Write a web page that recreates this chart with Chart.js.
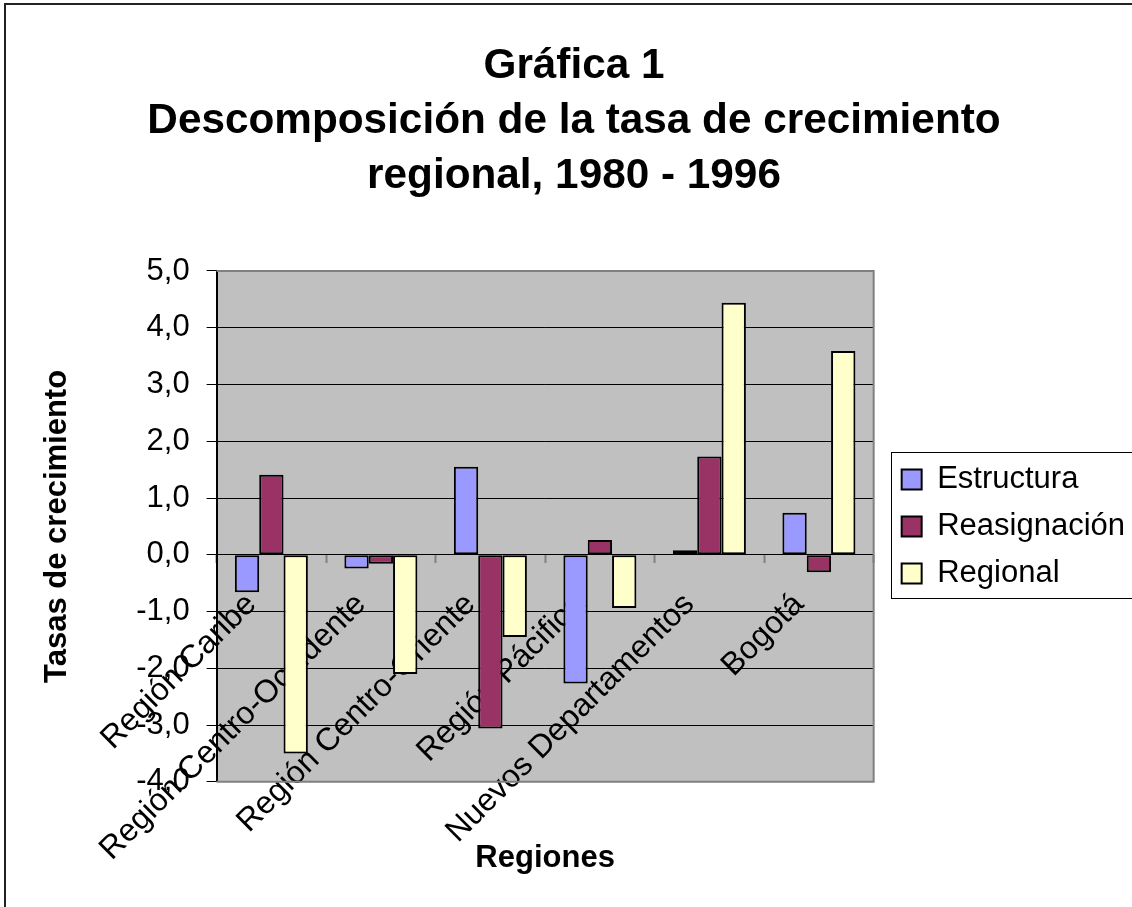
<!DOCTYPE html>
<html>
<head>
<meta charset="utf-8">
<script src="https://cdn.jsdelivr.net/npm/chart.js@4.4.1/dist/chart.umd.min.js"></script>
<style>
  html, body { margin: 0; padding: 0; background: #fff; overflow: hidden; }
  canvas { display: block; }
</style>
</head>
<body>
<canvas id="canvas" width="1150" height="907"></canvas>
<script>

//DATA
const regiones = ['Región Caribe', 'Región Centro-Occidente', 'Región Centro-Oriente', 'Región Pácifica', 'Nuevos Departamentos', 'Bogotá']
const estructura = [-0.66, -0.24, 1.55, -2.27, 0.08, 0.74]
const reasignacion = [1.41, -0.16, -3.06, 0.26, 1.73, -0.31]
const regional = [-3.50, -2.10, -1.45, -0.94, 4.44, 3.59]
const yMin = -4
const yMax = 5
const yStep = 1

const fontName = '"Liberation Sans", Arial, sans-serif'

//PLUGIN: gray plot area, frame and legend box like the excel chart
const excelLook = {
  id: 'excelLook',
  beforeDraw(chart) {
    const c = chart.ctx
    const a = chart.chartArea
    c.save()
    c.fillStyle = '#fff'
    c.fillRect(0, 0, chart.width, chart.height)
    c.fillStyle = '#c0c0c0'
    c.fillRect(a.left, a.top, a.right - a.left, a.bottom - a.top)
    // outer frame
    c.strokeStyle = '#222'
    c.lineWidth = 2
    c.beginPath()
    c.moveTo(5, chart.height)
    c.lineTo(5, 4)
    c.lineTo(chart.width, 4)
    c.stroke()
    c.restore()
  },
  afterLayout(chart) {
    // legend a bit off the plot and centred on it
    const lg = chart.legend
    const a = chart.chartArea
    lg.left += 12
    lg.right += 12
    lg.top = a.top
    lg.bottom = a.bottom
    lg.height = lg.bottom - lg.top
  },
  beforeDatasetsDraw(chart) {
    const c = chart.ctx
    const a = chart.chartArea
    c.save()
    c.strokeStyle = '#808080'
    c.lineWidth = 2
    c.beginPath()
    c.moveTo(a.left, a.top)
    c.lineTo(a.right, a.top)
    c.lineTo(a.right, a.bottom)
    c.lineTo(a.left, a.bottom)
    c.stroke()
    c.restore()
  },
  afterDraw(chart) {
    const lg = chart.legend
    const pad = lg.options.labels.padding
    const colH = lg.columnSizes[0].height
    const top = (lg.top + pad + lg.bottom - colH) / 2
    const c = chart.ctx
    c.save()
    c.strokeStyle = '#000'
    c.lineWidth = 1
    c.strokeRect(Math.round(lg.left + pad - 11) + 0.5, Math.round(top - 12) + 0.5, chart.width, colH - pad + 21)
    c.restore()
  }
}

//CHART
var ctx = document.getElementById('canvas').getContext('2d')
window.myBar = new Chart(ctx, {
  type: 'bar',
  data: {
    labels: regiones,
    datasets: [{
      label: 'Estructura',
      data: estructura,
      backgroundColor: '#9999ff',
      borderColor: '#000',
      borderWidth: 2,
      borderSkipped: false
    }, {
      label: 'Reasignación',
      data: reasignacion,
      backgroundColor: '#993366',
      borderColor: '#000',
      borderWidth: 2,
      borderSkipped: false
    }, {
      label: 'Regional',
      data: regional,
      backgroundColor: '#ffffcc',
      borderColor: '#000',
      borderWidth: 2,
      borderSkipped: false
    }]
  },
  options: {
    responsive: false,
    animation: false,
    datasets: {
      bar: { categoryPercentage: 3 / 4.5, barPercentage: 1 }
    },
    layout: {
      padding: { left: 25, right: 27, top: 0, bottom: 30 }
    },
    scales: {
      x: {
        // axis sits on the zero line, like excel does
        position: { y: 0 },
        grid: { drawOnChartArea: false, offset: true, tickLength: 8, tickColor: '#808080', tickWidth: 2 },
        border: { color: '#000', width: 1 },
        ticks: {
          autoSkip: false,
          minRotation: 45,
          maxRotation: 45,
          padding: 23,
          labelOffset: -20,
          color: '#000',
          font: { family: fontName, size: 32 }
        }
      },
      y: {
        min: yMin,
        max: yMax,
        ticks: {
          stepSize: yStep,
          padding: 17,
          color: '#000',
          font: { family: fontName, size: 31 },
          callback: (v) => v.toFixed(1).replace('.', ',')
        },
        grid: {
          color: (c) => (c.tick && (c.tick.value === yMax || c.tick.value === yMin)) ? 'rgba(0,0,0,0)' : '#000',
          lineWidth: 1,
          tickColor: '#000',
          tickLength: 10
        },
        border: { color: '#000', width: 2 },
        title: {
          display: true,
          text: 'Tasas de crecimiento',
          color: '#000',
          padding: { top: 14, bottom: 43 },
          font: { family: fontName, size: 31, weight: 'bold' }
        }
      }
    },
    plugins: {
      title: {
        display: true,
        text: ['Gráfica 1', 'Descomposición de la tasa de crecimiento', 'regional, 1980 - 1996'],
        color: '#000',
        padding: { top: 39, bottom: 67 },
        font: { family: fontName, size: 42.3, weight: 'bold', lineHeight: 1.3 }
      },
      // x axis title goes under the plot (the axis itself is at zero)
      subtitle: {
        display: true,
        position: 'bottom',
        fullSize: false,
        text: 'Regiones',
        color: '#000',
        padding: { top: 58, bottom: 0 },
        font: { family: fontName, size: 31, weight: 'bold' }
      },
      legend: {
        position: 'right',
        labels: {
          boxWidth: 20,
          boxHeight: 20,
          padding: 16,
          color: '#000',
          font: { family: fontName, size: 31 }
        }
      },
      tooltip: { enabled: false }
    }
  },
  plugins: [excelLook]
})

</script>
</body>
</html>
